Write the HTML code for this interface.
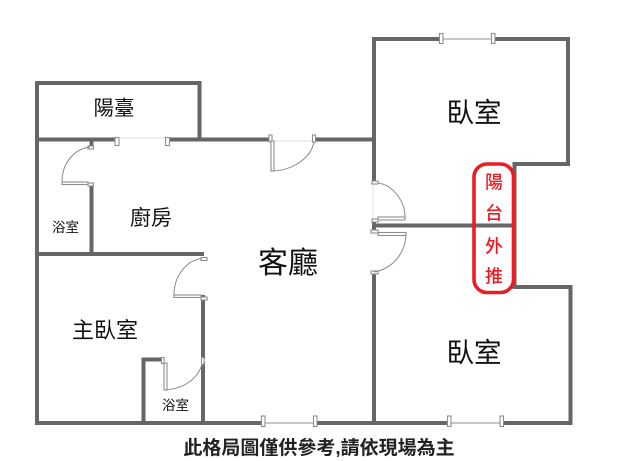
<!DOCTYPE html>
<html><head><meta charset="utf-8"><style>
html,body{margin:0;padding:0;background:#fff;width:640px;height:461px;overflow:hidden}
svg{display:block}
text{font-family:"Liberation Sans","Noto Sans CJK TC",sans-serif;fill:#111;text-anchor:middle}
#all{filter:blur(.35px)}
</style></head><body>
<svg width="640" height="461" viewBox="0 0 640 461" xmlns="http://www.w3.org/2000/svg">
<rect width="640" height="461" fill="#fff"/>
<g id="all">
<!-- walls -->
<g fill="none" stroke="#666" stroke-width="4" stroke-linecap="square">
<path d="M37 83V423H262M37 83H199.5V139.5M37 139.5H114M171 139.5H268M316 139.5H374"/>
<path d="M91.5 141V146M91.5 186V254M37 254H202M203 297V357M203 364V423"/>
<path d="M143.5 423V359.500H161"/>
<path d="M317 423H447M504 423H570.5V287H514.5V164H568V39H495M439 39H374V181"/>
<path d="M374 222V229M378 225.5H512"/>
<path d="M374 274V423"/>
</g>
<!-- window lines -->
<g stroke="#b5b5b5" stroke-width="1.6" fill="none">
<path d="M442 39H492M264 423H314M451 423H501"/>
</g>
<g stroke="#e2e2e2" stroke-width="1" fill="none">
<path d="M120 138H165M272 141H313M373 184V219"/>
</g>
<!-- jambs -->
<g fill="#fff" stroke="#8e8e8e" stroke-width="1.1">
<rect x="115" y="137.5" width="4" height="8"/>
<rect x="165.500" y="137.5" width="4" height="8"/>
<rect x="269" y="135" width="3" height="7"/>
<rect x="312.500" y="135" width="3" height="7"/>
<rect x="439.500" y="33.500" width="3.500" height="10"/>
<rect x="491.500" y="33.500" width="3.500" height="10"/>
<rect x="261.500" y="416" width="3.500" height="10.500"/>
<rect x="313.500" y="416" width="3.500" height="10.500"/>
<rect x="447.500" y="416" width="3.500" height="10.500"/>
<rect x="500" y="416" width="3.500" height="10.500"/>
<!-- bath door 1 -->
<rect x="88" y="146" width="5.500" height="3"/>
<rect x="62" y="182" width="26" height="2.500"/>
<rect x="88" y="183" width="5.500" height="3"/>
<!-- bedroom door -->
<rect x="201" y="257.500" width="6" height="3"/>
<rect x="174" y="295" width="27" height="2.500"/>
<rect x="201" y="297" width="6" height="3"/>
<!-- inner bath -->
<rect x="161.500" y="357.500" width="2.500" height="6"/>
<rect x="164" y="363" width="3" height="27"/>
<rect x="201.500" y="357.500" width="2.500" height="7"/>
<!-- top door -->
<rect x="271" y="141" width="3" height="30"/>
<!-- right doors -->
<rect x="372" y="181" width="6" height="3"/>
<rect x="378" y="217" width="27" height="3"/>
<rect x="372" y="219" width="6" height="3"/>
<rect x="371" y="230" width="7" height="3"/>
<rect x="378" y="232.500" width="28" height="3"/>
<rect x="371" y="271" width="7" height="3"/>
</g>
<!-- arcs -->
<g fill="none" stroke="#8a8a8a" stroke-width="1">
<path d="M62 182C62 163 74 149 90 147"/>
<path d="M174 295C174 276 186 261 201 258.500"/>
<path d="M165 390C183 389 198 379 202 364"/>
<path d="M273 171C293 170 311 158 314 142"/>
<path d="M378 183C393 185 405 201 405 217"/>
<path d="M406 235C405 254 392 269 374 272"/>
</g>
<!-- red -->
<rect x="474" y="164" width="39.500" height="128.500" rx="13" ry="13" fill="none" stroke="#ec1c24" stroke-width="3.600"/>
<g style="font-size:18px;font-weight:500">
<text x="494" y="188.500" style="fill:#ec1c24">陽</text>
<text x="494" y="219.500" style="fill:#ec1c24">台</text>
<text x="494" y="252.500" style="fill:#ec1c24">外</text>
<text x="494" y="282.500" style="fill:#ec1c24">推</text>
</g>
<!-- labels -->
<text x="114" y="115" font-size="20.500">陽臺</text>
<text x="151" y="225" font-size="21">廚房</text>
<text x="65.500" y="232" font-size="13.500">浴室</text>
<text x="105" y="338" font-size="22">主臥室</text>
<text x="175.500" y="410" font-size="13.500">浴室</text>
<text x="288" y="273" font-size="30">客廳</text>
<text x="474" y="122" font-size="27.500">臥室</text>
<text x="474" y="362" font-size="27.500">臥室</text>
<text x="319" y="454" font-size="19" style="font-weight:700;fill:#222">此格局圖僅供參考,請依現場為主</text>
</g>
</svg>
</body></html>
